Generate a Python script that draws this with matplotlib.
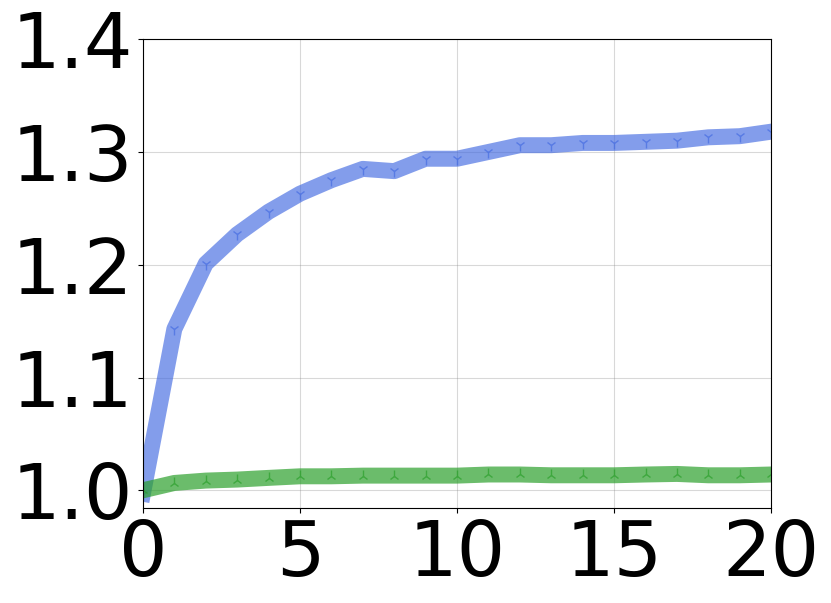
import matplotlib
matplotlib.use("Agg")
import matplotlib.pyplot as plt

steps = list(range(21))
blue_vals = [0.997, 1.143, 1.201, 1.227, 1.247, 1.263, 1.275, 1.285, 1.283, 1.294, 1.294,
             1.300, 1.306, 1.306, 1.308, 1.308, 1.309, 1.310, 1.313, 1.314, 1.318]
green_vals = [1.000, 1.0065, 1.0086, 1.0095, 1.011, 1.0124, 1.0124, 1.013, 1.013, 1.013, 1.013,
              1.014, 1.014, 1.0133, 1.0133, 1.0133, 1.014, 1.0145, 1.0133, 1.0133, 1.014]
x_ticks = [0, 5, 10, 15, 20]
y_ticks = [1.0, 1.1, 1.2, 1.3, 1.4]


def main():
    fig = plt.figure(figsize=(8.31, 6.03), dpi=100)
    ax = fig.add_subplot(111)
    fig.subplots_adjust(left=0.172, right=0.928, top=0.935, bottom=0.157)

    ax.plot(steps, blue_vals, color="royalblue", alpha=0.65, linewidth=11.5,
            marker="1", markersize=8)
    ax.plot(steps, green_vals, color="tab:green", alpha=0.7, linewidth=11.5,
            marker="2", markersize=8)

    ax.set_xlim(0, 20)
    ax.set_ylim(0.984, 1.4)
    ax.set_xticks(x_ticks)
    ax.set_yticks(y_ticks)
    ax.set_yticklabels([f"{v:.1f}" for v in y_ticks])
    ax.tick_params(axis="both", labelsize=55)
    ax.grid(True, color="gray", alpha=0.3)

    fig.savefig("out.png", dpi=100)


if __name__ == "__main__":
    main()
